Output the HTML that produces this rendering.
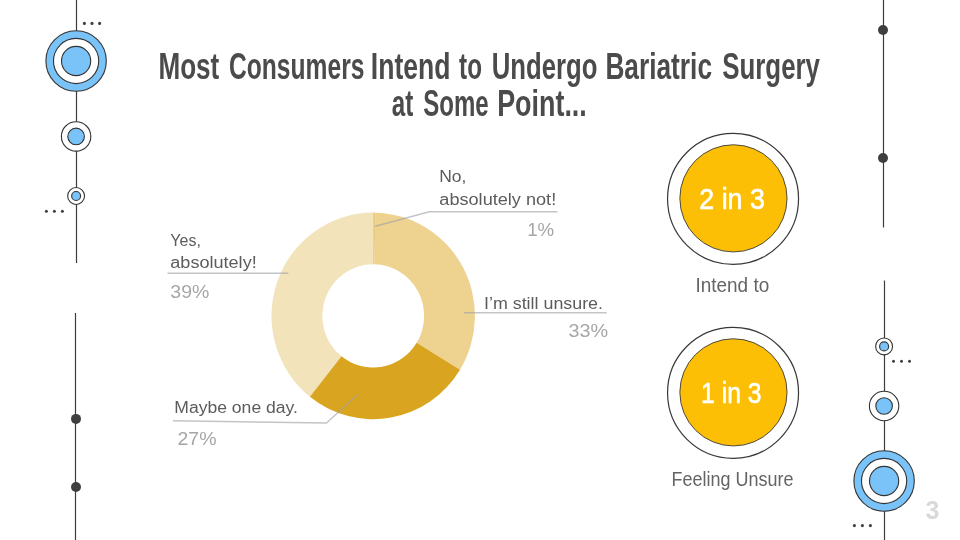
<!DOCTYPE html>
<html lang="en">
<head>
<meta charset="utf-8">
<title>Most Consumers Intend to Undergo Bariatric Surgery at Some Point...</title>
<style>
  html, body { margin: 0; padding: 0; background: #ffffff; }
  body { width: 960px; height: 540px; overflow: hidden; position: relative; }
  svg { position: absolute; left: 0; top: 0; display: block; }
  text { font-family: "Liberation Sans", sans-serif; }
  .title { font-weight: bold; font-size: 37px; fill: #4b4b4b; }
  .lbl { font-size: 16px; fill: #5c5c5c; }
  .pct { font-size: 17.7px; fill: #a6a6a6; }
  .big { font-size: 30px; fill: #ffffff; stroke: #ffffff; stroke-width: 0.6; }
  .cap { font-size: 20px; fill: #646464; }
  .num { font-size: 25px; font-weight: bold; fill: #d9d9d9; }
  .ln { stroke: #3c3c3c; stroke-width: 1.2; fill: none; }
  .rb { fill: #79c3f8; stroke: #333333; stroke-width: 1.1; }
  .rw { fill: #ffffff; stroke: #333333; stroke-width: 1.1; }
  .dot { fill: #3f3f3f; }
  .lead { stroke: #9da1a6; stroke-opacity: 0.62; stroke-width: 1.4; fill: none; }
</style>
</head>
<body>
<svg width="960" height="540" viewBox="0 0 960 540">
  <rect x="0" y="0" width="960" height="540" fill="#ffffff"/>

  <!-- left decoration -->
  <g id="deco-left">
    <line class="ln" x1="76.5" y1="0" x2="76.5" y2="263"/>
    <circle class="rb" cx="76.1" cy="61" r="30.2"/>
    <circle class="rw" cx="76.1" cy="61" r="22.6"/>
    <circle class="rb" cx="76.1" cy="61" r="14.6"/>
    <circle class="rw" cx="76.1" cy="136.4" r="14.7"/>
    <circle class="rb" cx="76.1" cy="136.4" r="8.3"/>
    <circle class="rw" cx="76.1" cy="196" r="8.45"/>
    <circle class="rb" cx="76.1" cy="196" r="4.45"/>
    <circle class="dot" cx="84.4" cy="23.4" r="1.55"/><circle class="dot" cx="92" cy="23.4" r="1.55"/><circle class="dot" cx="99.6" cy="23.4" r="1.55"/>
    <circle class="dot" cx="46.4" cy="211.3" r="1.5"/><circle class="dot" cx="54.4" cy="211.3" r="1.5"/><circle class="dot" cx="62.4" cy="211.3" r="1.5"/>
    <line class="ln" x1="75.5" y1="313" x2="75.5" y2="540"/>
    <circle class="dot" cx="76" cy="418.9" r="5"/>
    <circle class="dot" cx="76" cy="487" r="5"/>
  </g>

  <!-- right decoration -->
  <g id="deco-right">
    <line class="ln" x1="883.5" y1="0" x2="883.5" y2="227.5"/>
    <circle class="dot" cx="883" cy="30" r="5"/>
    <circle class="dot" cx="883" cy="158" r="5"/>
    <line class="ln" x1="884.5" y1="280.5" x2="884.5" y2="540"/>
    <circle class="rw" cx="884.1" cy="346.4" r="8.45"/>
    <circle class="rb" cx="884.1" cy="346.4" r="4.5"/>
    <circle class="rw" cx="884.1" cy="406" r="14.7"/>
    <circle class="rb" cx="884.1" cy="406" r="8.3"/>
    <circle class="rb" cx="884.1" cy="481" r="30.2"/>
    <circle class="rw" cx="884.1" cy="481" r="22.6"/>
    <circle class="rb" cx="884.1" cy="481" r="14.6"/>
    <circle class="dot" cx="893.5" cy="361.3" r="1.5"/><circle class="dot" cx="901.5" cy="361.3" r="1.5"/><circle class="dot" cx="909.5" cy="361.3" r="1.5"/>
    <circle class="dot" cx="854.4" cy="525.6" r="1.55"/><circle class="dot" cx="862.4" cy="525.6" r="1.55"/><circle class="dot" cx="870.4" cy="525.6" r="1.55"/>
  </g>

  <!-- title -->
  <text class="title" y="78.5"><tspan x="158.4" textLength="60.9" lengthAdjust="spacingAndGlyphs">Most</tspan> <tspan x="229.0" textLength="135.4" lengthAdjust="spacingAndGlyphs">Consumers</tspan> <tspan x="370.8" textLength="79.7" lengthAdjust="spacingAndGlyphs">Intend</tspan> <tspan x="459.1" textLength="22.9" lengthAdjust="spacingAndGlyphs">to</tspan> <tspan x="491.7" textLength="105.8" lengthAdjust="spacingAndGlyphs">Undergo</tspan> <tspan x="605.4" textLength="106.6" lengthAdjust="spacingAndGlyphs">Bariatric</tspan> <tspan x="722.2" textLength="97.8" lengthAdjust="spacingAndGlyphs">Surgery</tspan></text>
  <text class="title" y="115.7"><tspan x="391.8" textLength="21.5" lengthAdjust="spacingAndGlyphs">at</tspan> <tspan x="423.2" textLength="65.4" lengthAdjust="spacingAndGlyphs">Some</tspan> <tspan x="497.2" textLength="89.6" lengthAdjust="spacingAndGlyphs">Point...</tspan></text>

  <!-- donut chart -->
  <g id="donut">
    <path id="seg39" d="M309.89,396.74 A101.7,103.3 0 0 1 373.20,212.60 L373.20,264.20 A50.9,51.7 0 0 0 341.51,356.36 Z" fill="#f3e3bb"/>
    <path id="seg33" d="M375.51,212.63 A101.7,103.3 0 0 1 460.01,369.72 L416.65,342.84 A50.9,51.7 0 0 0 374.35,264.21 Z" fill="#eed290"/>
    <path id="seg27" d="M460.01,369.72 A101.7,103.3 0 0 1 309.89,396.74 L341.51,356.36 A50.9,51.7 0 0 0 416.65,342.84 Z" fill="#d9a521"/>
    <path id="seg1" d="M373.20,212.60 A101.7,103.3 0 0 1 375.51,212.63 L374.35,264.21 A50.9,51.7 0 0 0 373.20,264.20 Z"  fill="#e8c77b"/>
  </g>

  <!-- leader lines -->
  <polyline class="lead" points="167.5,273.3 288.3,273.3"/>
  <polyline class="lead" points="375.2,226.3 429.4,211.7 557.5,211.7"/>
  <polyline class="lead" points="464,312.7 606.7,312.7"/>
  <polyline class="lead" points="172.9,420.8 326.5,423 358.3,393.9"/>

  <!-- labels -->
  <text class="lbl" x="170.3" y="245.5">Yes,</text>
  <text class="lbl" x="170.3" y="268.3" textLength="86.4" lengthAdjust="spacingAndGlyphs">absolutely!</text>
  <text class="pct" x="170.3" y="298" textLength="39" lengthAdjust="spacingAndGlyphs">39%</text>

  <text class="lbl" x="439.2" y="182.3" textLength="27.2" lengthAdjust="spacingAndGlyphs">No,</text>
  <text class="lbl" x="439.3" y="205.4" textLength="116.9" lengthAdjust="spacingAndGlyphs">absolutely not!</text>
  <text class="pct" x="527.2" y="236" textLength="27" lengthAdjust="spacingAndGlyphs">1%</text>

  <text class="lbl" x="484" y="308.7" textLength="119" lengthAdjust="spacingAndGlyphs">I’m still unsure.</text>
  <text class="pct" x="568.4" y="336.7" textLength="39.6" lengthAdjust="spacingAndGlyphs">33%</text>

  <text class="lbl" x="174.3" y="412.7" textLength="123.6" lengthAdjust="spacingAndGlyphs">Maybe one day.</text>
  <text class="pct" x="177.5" y="445" textLength="39" lengthAdjust="spacingAndGlyphs">27%</text>

  <!-- stat circles -->
  <circle cx="733.05" cy="198.85" r="65.5" fill="#ffffff" stroke="#383838" stroke-width="1.2"/>
  <circle cx="733.45" cy="198.35" r="53.6" fill="#fdbf05" stroke="#3a3a3a" stroke-width="0.9"/>
  <text class="big" x="699.3" y="209.1" textLength="65.5" lengthAdjust="spacingAndGlyphs">2 in 3</text>
  <text class="cap" x="695.4" y="291.6" textLength="73.8" lengthAdjust="spacingAndGlyphs">Intend to</text>

  <circle cx="733.05" cy="392.85" r="65.5" fill="#ffffff" stroke="#383838" stroke-width="1.2"/>
  <circle cx="733.45" cy="392.35" r="53.6" fill="#fdbf05" stroke="#3a3a3a" stroke-width="0.9"/>
  <text class="big" x="701.1" y="403.3" textLength="60.3" lengthAdjust="spacingAndGlyphs">1 in 3</text>
  <text class="cap" x="671.6" y="485.5" textLength="121.9" lengthAdjust="spacingAndGlyphs">Feeling Unsure</text>

  <!-- page number -->
  <text class="num" x="925.5" y="519">3</text>
</svg>
</body>
</html>
